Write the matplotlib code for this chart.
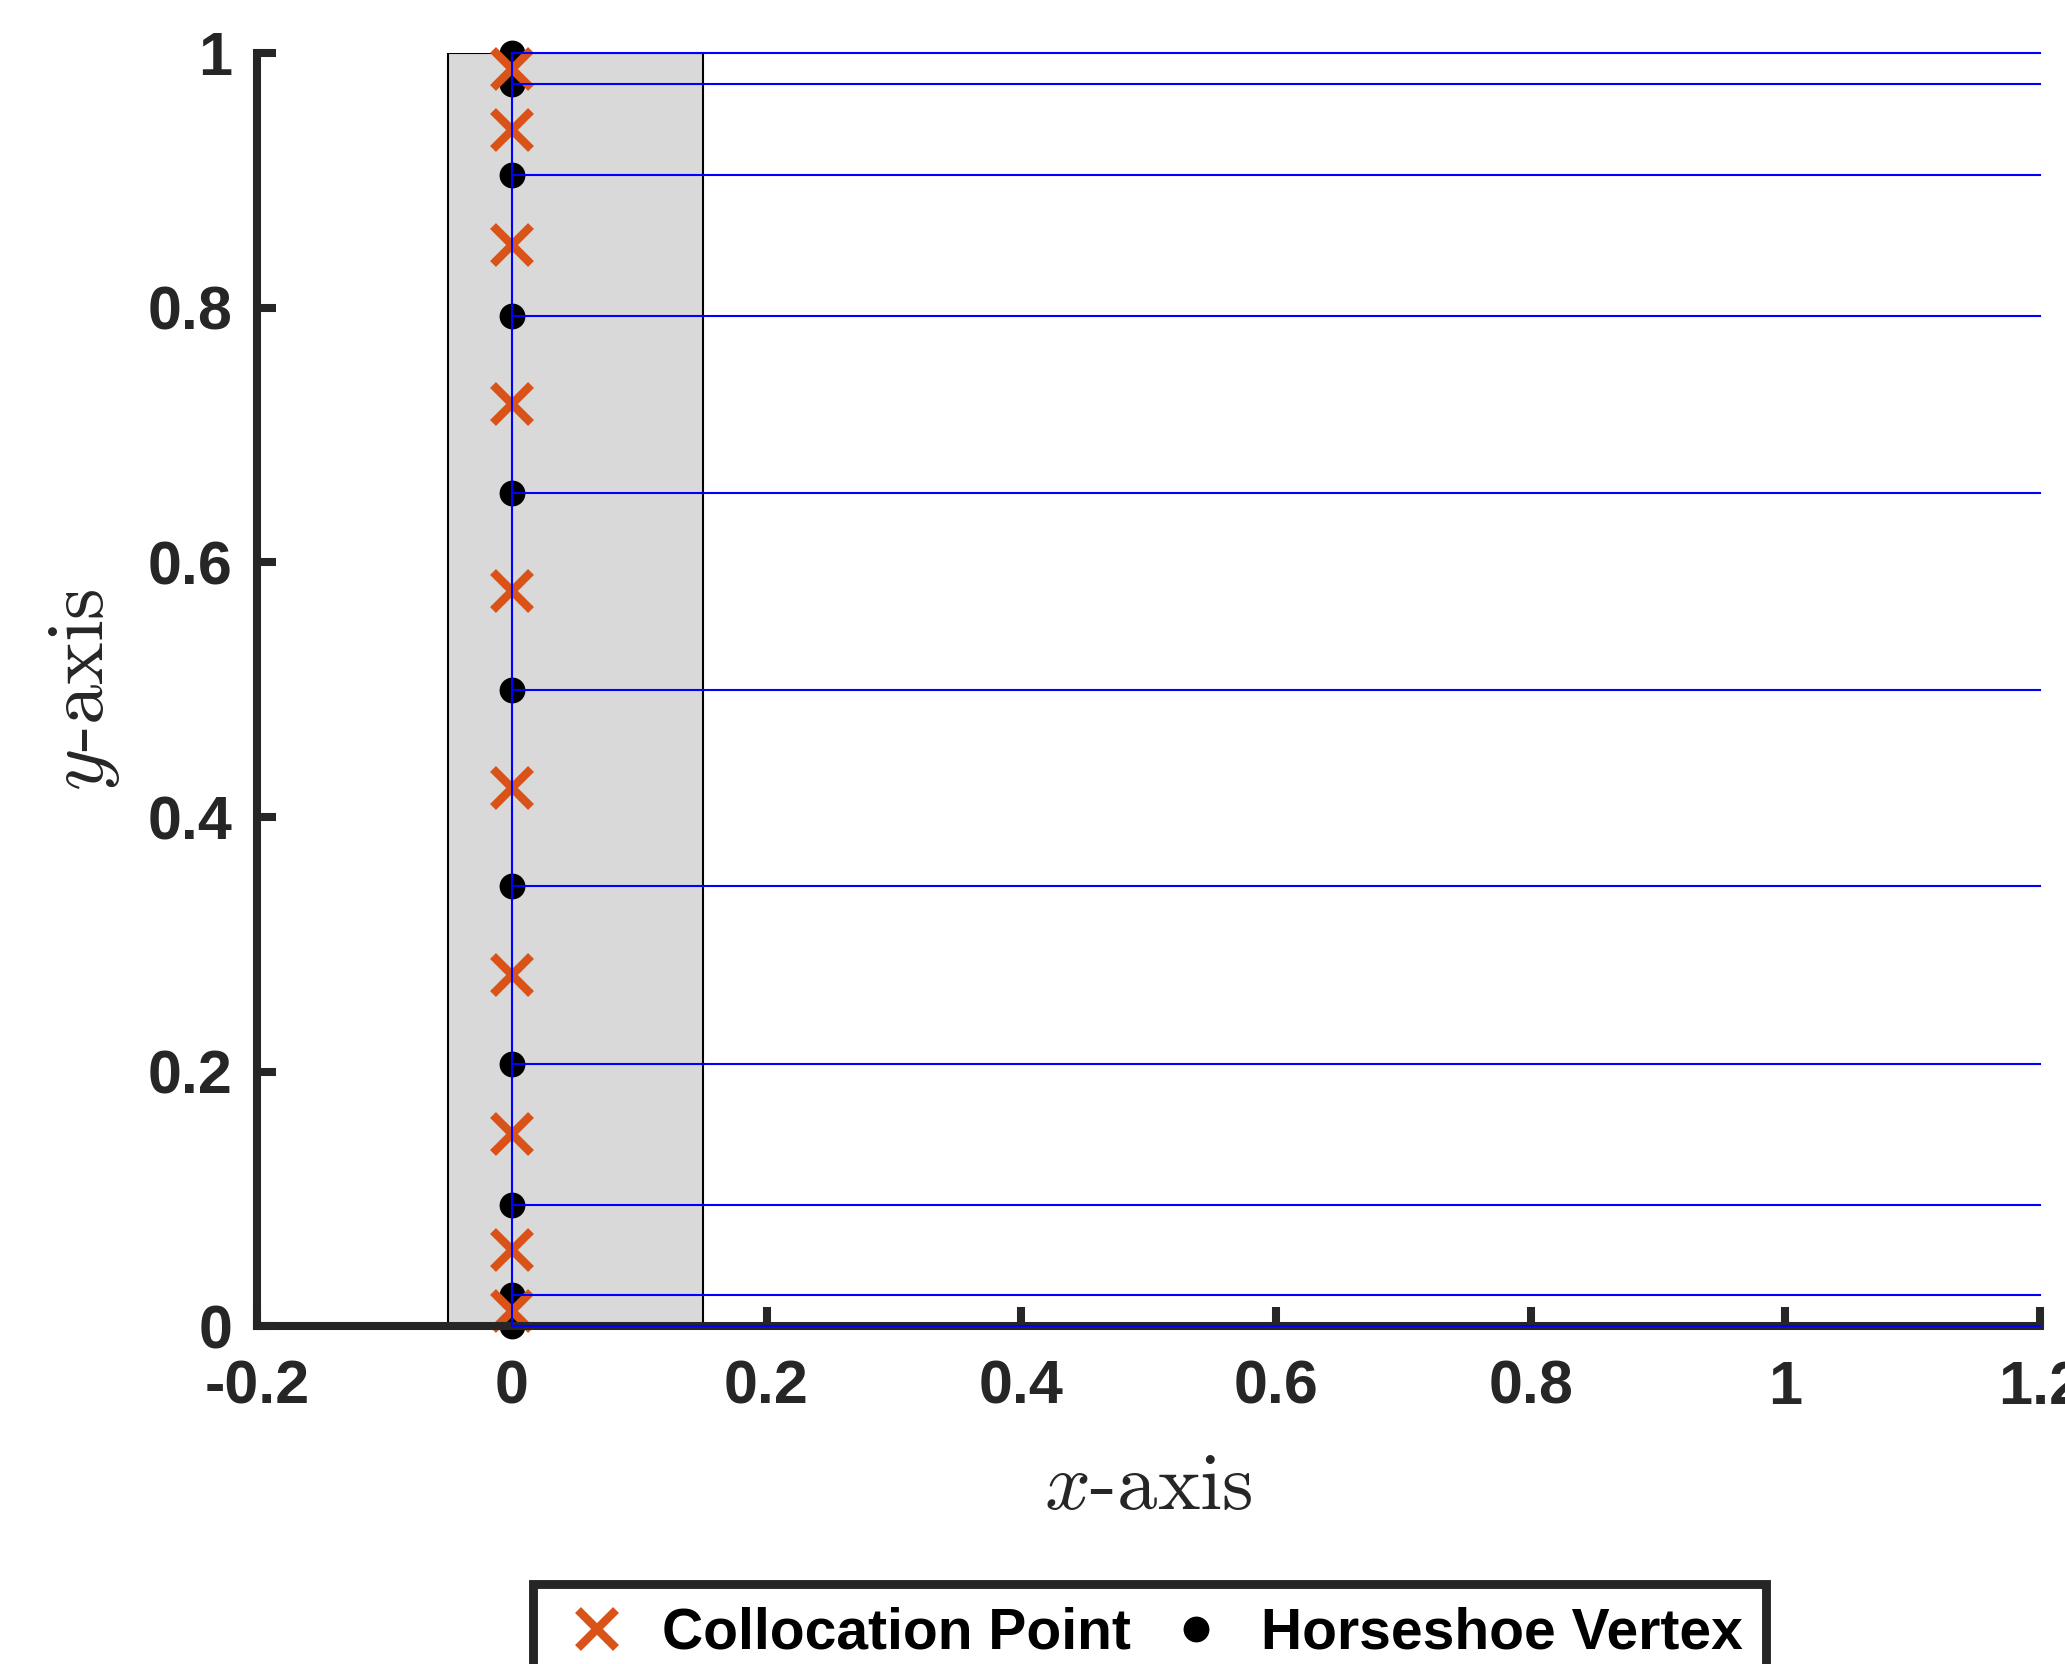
import numpy as np
import matplotlib.pyplot as plt

plt.rcParams['mathtext.fontset'] = 'cm'

# spanwise positions of horseshoe vertices and collocation points
vertex_y = [0.0, 0.0245, 0.0955, 0.2061, 0.3455, 0.5, 0.6545, 0.7939, 0.9045, 0.9755, 1.0]
colloc_y = [0.0122, 0.0600, 0.1508, 0.2758, 0.4228, 0.5772, 0.7242, 0.8492, 0.9400, 0.9878]
vertex_x = [0.0] * len(vertex_y)
colloc_x = [0.0] * len(colloc_y)

# wing planform (chord box) and wake extent
wing_x = [-0.05, 0.15, 0.15, -0.05]
wing_y = [0.0, 0.0, 1.0, 1.0]
wake_end = 1.2

xticks = [-0.2, 0, 0.2, 0.4, 0.6, 0.8, 1, 1.2]
xticklabels = ['-0.2', '0', '0.2', '0.4', '0.6', '0.8', '1', '1.2']
yticks = [0, 0.2, 0.4, 0.6, 0.8, 1]
yticklabels = ['0', '0.2', '0.4', '0.6', '0.8', '1']

axcol = '#262626'
orange = '#D95319'

fig = plt.figure(figsize=(10.325, 8.32), dpi=200)
ax = fig.add_axes([0.1245, 0.203, 0.8635, 0.765])

ax.fill(wing_x, wing_y, facecolor='#D9D9D9', edgecolor='black', linewidth=0.75, zorder=1)

ax.plot(vertex_x, vertex_y, 'o', color='black', markersize=8.3, linestyle='none',
        label='Horseshoe Vertex', zorder=3, clip_on=False)
ax.plot(colloc_x, colloc_y, 'x', color=orange, markersize=14, markeredgewidth=3,
        linestyle='none', label='Collocation Point', zorder=4, clip_on=False)

# bound vortex and trailing legs
ax.plot([0, 0], [vertex_y[0], vertex_y[-1]], color='blue', lw=0.75, zorder=6, clip_on=False)
for y in vertex_y:
    ax.plot([0, wake_end], [y, y], color='blue', lw=0.75, zorder=6, clip_on=False)

ax.set_xlim(-0.2, 1.2)
ax.set_ylim(0, 1)
ax.spines['top'].set_visible(False)
ax.spines['right'].set_visible(False)
for s in ['left', 'bottom']:
    ax.spines[s].set_linewidth(2.9)
    ax.spines[s].set_color(axcol)
    ax.spines[s].set_zorder(5)

ax.set_xticks(xticks)
ax.set_xticklabels(xticklabels)
ax.set_yticks(yticks)
ax.set_yticklabels(yticklabels)
ax.tick_params(direction='in', length=7, width=2.9, color=axcol, labelcolor=axcol,
               labelsize=22)
ax.tick_params(axis='x', pad=12)
ax.tick_params(axis='y', pad=9)
for lab in ax.get_xticklabels() + ax.get_yticklabels():
    lab.set_fontfamily('Liberation Sans')
    lab.set_fontweight('bold')

ax.set_xlabel(r'$x$-axis', fontfamily='cmr10', fontsize=29, color=axcol)
ax.set_ylabel(r'$y$-axis', fontfamily='cmr10', fontsize=29, color=axcol)
ax.xaxis.set_label_coords(0.5, -0.1)
ax.yaxis.set_label_coords(-0.076, 0.5)

h, l = ax.get_legend_handles_labels()
leg = ax.legend(h[::-1], l[::-1], loc='upper center', bbox_to_anchor=(0.5565, 0.048),
                bbox_transform=fig.transFigure, ncol=2, borderaxespad=0,
                prop={'family': 'Liberation Sans', 'weight': 'bold', 'size': 20.5},
                handlelength=1.45, handletextpad=0.42, columnspacing=0.42,
                borderpad=0.4, fancybox=False, framealpha=1)
leg.get_frame().set_linewidth(3.2)
leg.get_frame().set_edgecolor(axcol)
for t in leg.get_texts():
    t.set_color('black')

fig.savefig('out.png', dpi=200)
